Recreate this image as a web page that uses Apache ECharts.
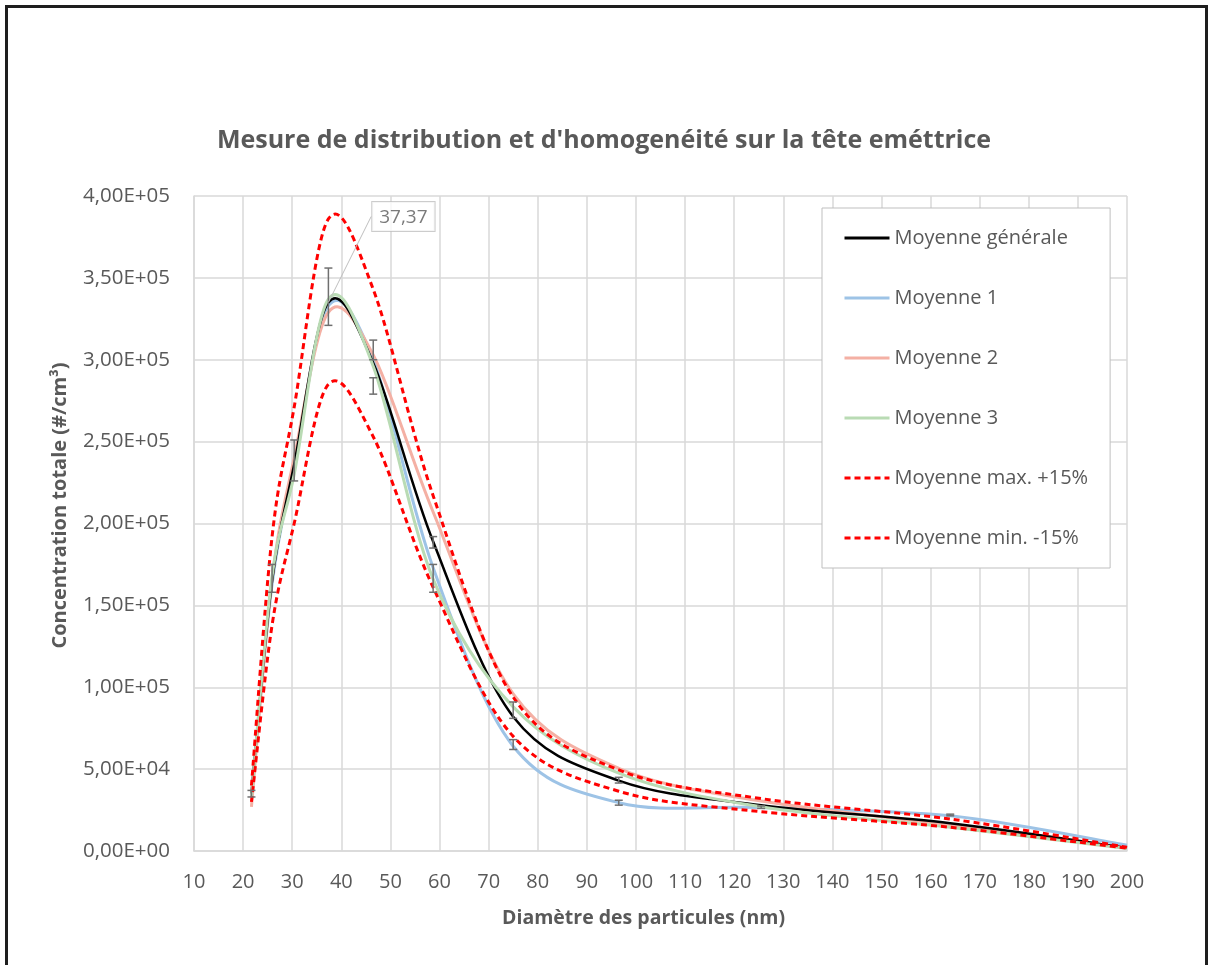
<!DOCTYPE html>
<html>
<head>
<meta charset="utf-8">
<script src="https://cdn.jsdelivr.net/npm/echarts@6/dist/echarts.min.js"></script>
<style>
html, body { margin: 0; padding: 0; background: #fff; }
#chart { position: absolute; left: 0; top: 0; width: 1208px; height: 965px; }
/* cadre noir autour du graphique (comme la capture) */
#cadre { position: absolute; left: 5px; top: 5px; width: 1197px; height: 990px; border: 3px solid #1e1e1e; pointer-events: none; }
</style>
</head>
<body>
<div id="chart"></div>
<div id="cadre"></div>
<script>
// diamètres des canaux (nm)
var diametres = [21.7, 25.9, 30.4, 37.37, 46.5, 58.7, 75.0, 96.5, 125.5, 164.0, 200.0];

// concentrations (#/cm3)
var moyenneGenerale = [35000, 165000, 236000, 335000, 298000, 189000, 82000, 43000, 28000, 17000, 2000];
var moyenne1 = [34000, 163000, 236000, 333000, 300000, 173000, 64000, 29500, 26500, 21500, 3500];
var moyenne2 = [27000, 166000, 240000, 329000, 303000, 207000, 96000, 50500, 30500, 16000, 2000];
var moyenne3 = [33000, 168000, 230000, 337000, 296000, 166000, 88000, 47500, 27000, 14500, 1500];
var moyenneMax = [40000, 192000, 271000, 386000, 343000, 217000, 94000, 49500, 32000, 19500, 2300];
var moyenneMin = [30000, 138000, 200000, 285000, 253000, 161000, 70000, 36500, 24000, 14500, 1700];

// barres d'erreur : [diamètre, bas, haut]
var erreursA = [[21.7, 33000, 37000], [25.9, 158000, 175000], [30.4, 226000, 251000], [37.37, 321000, 356000],
  [46.5, 300000, 312000], [58.7, 185000, 192000], [75.0, 81000, 91000], [96.5, 41500, 45000],
  [125.5, 26000, 27500], [164.0, 21500, 22500]];
var erreursB = [[46.5, 279000, 289000], [58.7, 158000, 175000], [75.0, 62000, 68000], [96.5, 28000, 31000]];

var noms = ['Moyenne générale', 'Moyenne 1', 'Moyenne 2', 'Moyenne 3', 'Moyenne max. +15%', 'Moyenne min. -15%'];
var indicePic = 3;

function points(valeurs) {
  return diametres.map(function (d, i) { return [d, valeurs[i]]; });
}

function formatSci(v) {
  if (v === 0) return '0,00E+00';
  var e = Math.floor(Math.log10(v));
  var m = v / Math.pow(10, e);
  return m.toFixed(2).replace('.', ',') + 'E' + (e < 0 ? '-' : '+') + String(Math.abs(e)).padStart(2, '0');
}

// série "line" vide : sert seulement à l'icône de la légende
function serieLegende(nom, couleur, largeur, tirets) {
  return {
    name: nom,
    type: 'line',
    symbol: 'none',
    data: [],
    lineStyle: { color: couleur, width: largeur, type: tirets ? [6, 4] : 'solid' },
    itemStyle: { color: couleur }
  };
}

// courbe lissée façon Excel (Catmull-Rom -> Bézier), points placés par api.coord
function serieCourbe(valeurs, couleur, largeur, tirets, z) {
  var pts = points(valeurs);
  return {
    type: 'custom',
    z: z,
    silent: true,
    clip: false,
    encode: { x: 0, y: 1 },
    data: pts,
    renderItem: function (params, api) {
      if (params.dataIndex !== 0) return null;
      var p = pts.map(function (d) { return api.coord(d); });
      var n = p.length;
      var d = 'M' + p[0][0].toFixed(2) + ' ' + p[0][1].toFixed(2);
      for (var i = 0; i < n - 1; i++) {
        var p0 = p[Math.max(i - 1, 0)], p1 = p[i], p2 = p[i + 1], p3 = p[Math.min(i + 2, n - 1)];
        var c1x = p1[0] + (p2[0] - p0[0]) / 6, c1y = p1[1] + (p2[1] - p0[1]) / 6;
        var c2x = p2[0] - (p3[0] - p1[0]) / 6, c2y = p2[1] - (p3[1] - p1[1]) / 6;
        d += ' C' + c1x.toFixed(2) + ' ' + c1y.toFixed(2) + ' ' + c2x.toFixed(2) + ' ' + c2y.toFixed(2) +
          ' ' + p2[0].toFixed(2) + ' ' + p2[1].toFixed(2);
      }
      return {
        type: 'path',
        shape: { pathData: d },
        style: { stroke: couleur, lineWidth: largeur, fill: null, lineDash: tirets ? [6, 4] : null, lineCap: 'butt' }
      };
    }
  };
}

function barresErreur(donnees) {
  return {
    type: 'custom',
    z: 6,
    silent: true,
    encode: { x: 0, y: [1, 2] },
    data: donnees,
    renderItem: function (params, api) {
      var bas = api.coord([api.value(0), api.value(1)]);
      var haut = api.coord([api.value(0), api.value(2)]);
      var s = { stroke: '#6f6f6f', lineWidth: 1.5 };
      return {
        type: 'group',
        children: [
          { type: 'line', shape: { x1: bas[0], y1: bas[1], x2: haut[0], y2: haut[1] }, style: s },
          { type: 'line', shape: { x1: bas[0] - 4, y1: bas[1], x2: bas[0] + 4, y2: bas[1] }, style: s },
          { type: 'line', shape: { x1: haut[0] - 4, y1: haut[1], x2: haut[0] + 4, y2: haut[1] }, style: s }
        ]
      };
    }
  };
}

var couleurs = ['#000000', '#9dc3e6', '#f4b0a4', '#b9dbb4', '#ff0000', '#ff0000'];

var chart = echarts.init(document.getElementById('chart'));

var option = {
  backgroundColor: '#fff',
  animation: false,
  textStyle: { fontFamily: 'Open Sans' },
  title: {
    text: "Mesure de distribution et d'homogenéité sur la tête eméttrice",
    left: 'center',
    top: 123,
    textStyle: { color: '#595959', fontSize: 25, fontWeight: 'bold', fontFamily: 'Open Sans' }
  },
  grid: { left: 194, right: 81, top: 196, bottom: 114 },
  legend: {
    data: noms,
    orient: 'vertical',
    left: 822,
    top: 208,
    padding: [20, 22, 20, 21],
    itemGap: 40,
    itemWidth: 45,
    itemHeight: 20,
    backgroundColor: '#fff',
    borderColor: '#bfbfbf',
    borderWidth: 1,
    borderRadius: 0,
    selectedMode: false,
    itemStyle: { opacity: 0 },
    lineStyle: { width: 3 },
    textStyle: { color: '#595959', fontSize: 20, lineHeight: 20, width: 190, fontFamily: 'Open Sans', padding: [0, 0, 0, 0] }
  },
  xAxis: {
    type: 'value',
    min: 10,
    max: 200,
    interval: 10,
    name: 'Diamètre des particules (nm)',
    nameLocation: 'middle',
    nameGap: 57,
    nameTextStyle: { color: '#595959', fontSize: 19.5, fontWeight: 'bold', fontFamily: 'Open Sans', padding: [0, 34, 0, 0] },
    axisLine: { show: true, lineStyle: { color: '#d9d9d9', width: 1.5 } },
    axisTick: { show: false },
    axisLabel: { color: '#595959', fontSize: 20, margin: 21, fontFamily: 'Open Sans' },
    splitLine: { show: true, lineStyle: { color: '#d9d9d9', width: 1.5 } }
  },
  yAxis: {
    type: 'value',
    min: 0,
    max: 400000,
    interval: 50000,
    name: 'Concentration totale (#/cm³)',
    nameLocation: 'middle',
    nameGap: 124,
    nameTextStyle: { color: '#595959', fontSize: 20, fontWeight: 'bold', fontFamily: 'Open Sans', padding: [0, 0, 0, 36] },
    axisLine: { show: true, lineStyle: { color: '#d9d9d9', width: 1.5 } },
    axisTick: { show: false },
    axisLabel: { color: '#595959', fontSize: 20.5, margin: 24, fontFamily: 'Open Sans', formatter: formatSci },
    splitLine: { show: true, lineStyle: { color: '#d9d9d9', width: 1.5 } }
  },
  series: [
    serieLegende(noms[0], couleurs[0], 3, false),
    serieLegende(noms[1], couleurs[1], 3, false),
    serieLegende(noms[2], couleurs[2], 3, false),
    serieLegende(noms[3], couleurs[3], 3, false),
    serieLegende(noms[4], couleurs[4], 3, true),
    serieLegende(noms[5], couleurs[5], 3, true),
    serieCourbe(moyenne1, couleurs[1], 3, false, 2),
    serieCourbe(moyenne2, couleurs[2], 3, false, 2),
    serieCourbe(moyenneGenerale, couleurs[0], 2.5, false, 3),
    serieCourbe(moyenne3, couleurs[3], 3, false, 4),
    serieCourbe(moyenneMax, couleurs[4], 3, true, 5),
    serieCourbe(moyenneMin, couleurs[5], 3, true, 5),
    barresErreur(erreursA),
    barresErreur(erreursB),
    {
      // étiquette du pic (valeur X)
      type: 'scatter',
      z: 8,
      silent: true,
      symbolSize: 1,
      itemStyle: { color: 'rgba(0,0,0,0)' },
      data: [[diametres[indicePic], moyenneGenerale[indicePic]]],
      label: {
        show: true,
        position: 'top',
        formatter: function (p) { return String(p.value[0]).replace('.', ','); },
        color: '#595959',
        fontSize: 19,
        fontFamily: 'Open Sans',
        backgroundColor: '#fff',
        borderColor: '#bfbfbf',
        borderWidth: 1,
        padding: [6, 7, 4, 7]
      },
      labelLayout: { dx: 75, dy: -66 },
      labelLine: { show: true, length2: 0, lineStyle: { color: '#bfbfbf', width: 1 } }
    }
  ]
};

chart.setOption(option);
</script>
</body>
</html>
